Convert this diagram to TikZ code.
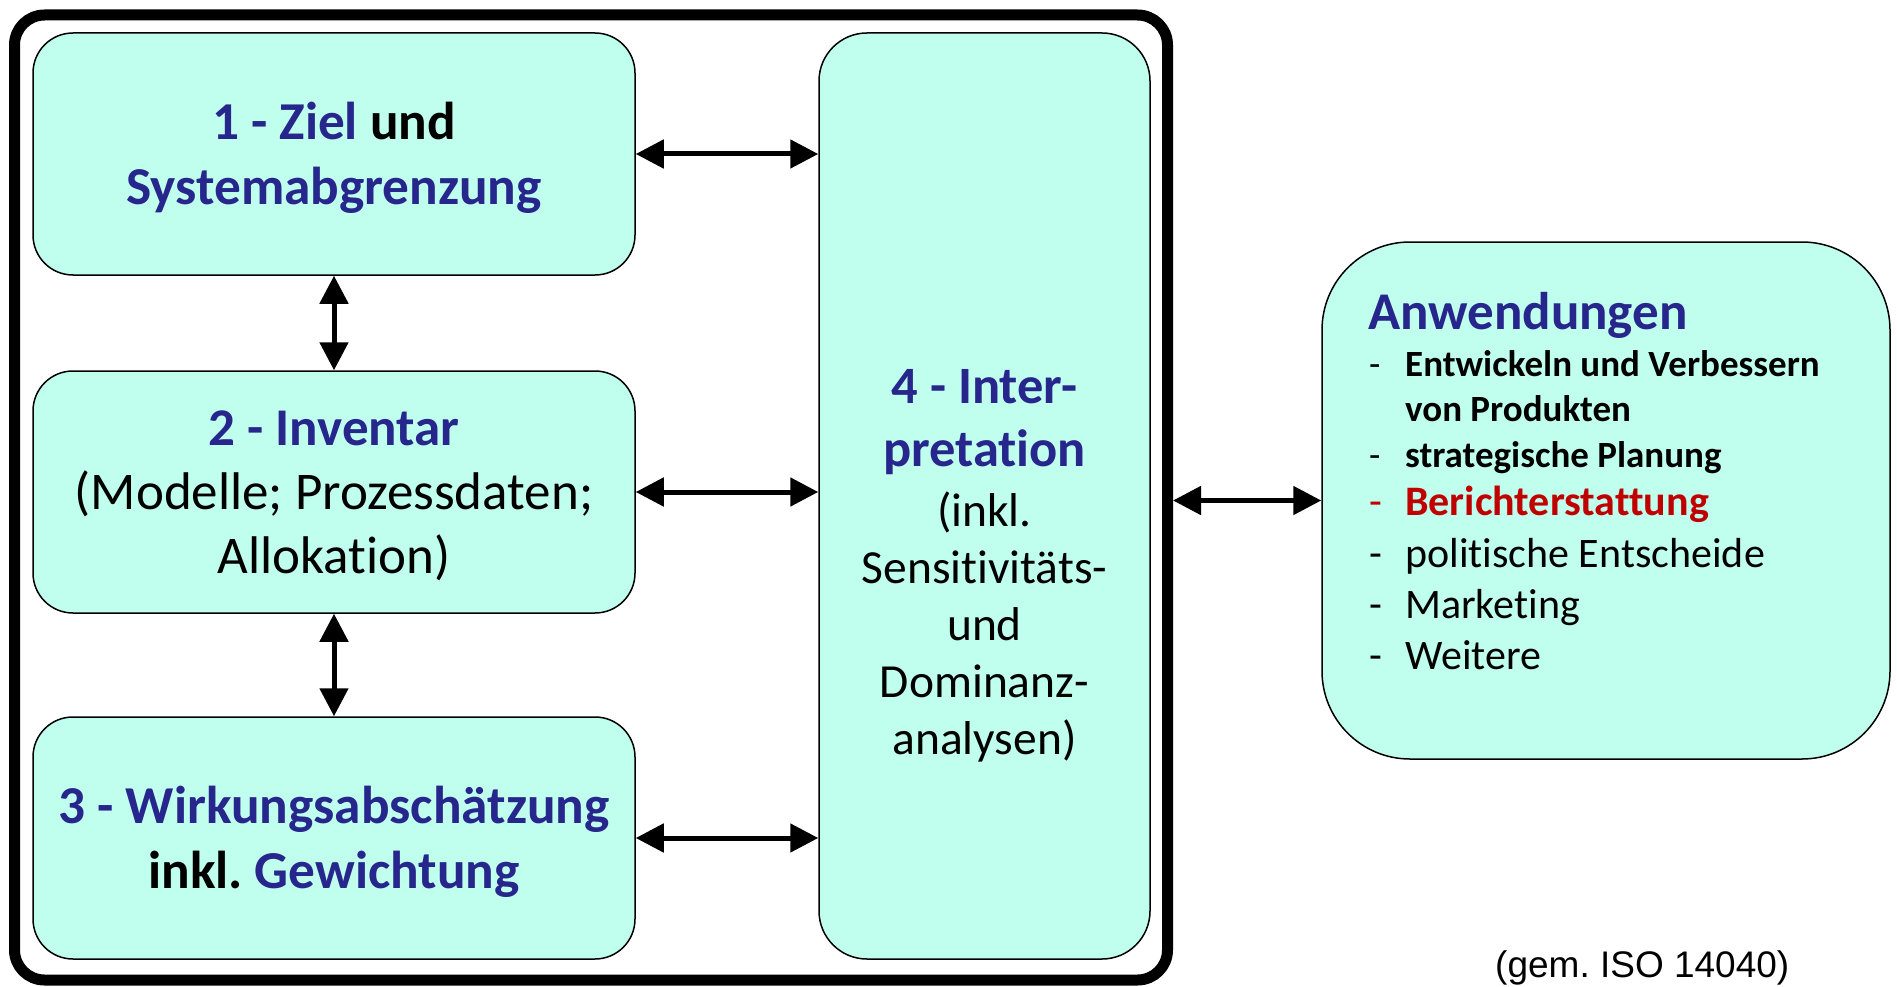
\documentclass[tikz,border=0pt]{standalone}
\usepackage{fontspec}
\setmainfont{Carlito}[Ligatures=NoCommon]
\newfontfamily\arialfont{Liberation Sans}
\usetikzlibrary{arrows.meta}
\definecolor{lcablue}{RGB}{38,38,140}
\definecolor{lcared}{RGB}{192,0,0}
\definecolor{lcafill}{RGB}{192,255,237}
\frenchspacing
\tikzset{
  phase/.style={draw=black, line width=1.5pt, fill=lcafill, rounded corners=40pt, inner sep=0pt},
  conn/.style={line width=5pt, {Triangle[length=28pt,width=28pt]}-{Triangle[length=28pt,width=28pt]}},
  bigbold/.style={font=\bfseries\fontsize{53.3}{64.5}\selectfont, align=center, text=black},
  bigreg/.style={font=\fontsize{53}{64}\selectfont, align=center, text=black},
  t4bold/.style={anchor=base, font=\bfseries\fontsize{52.5}{63}\selectfont, text=lcablue},
  t4reg/.style={anchor=base, font=\fontsize{47.5}{57}\selectfont, text=black},
  anwline/.style={anchor=base west, inner sep=0pt},
}
\begin{document}
\begin{tikzpicture}[x=1pt,y=-1pt]
\useasboundingbox (0,0) rectangle (1897,987);
% outer frame
\node[draw, line width=11pt, rounded corners=30pt, minimum width=1153pt, minimum height=965pt, inner sep=0pt] (frame) at (591,497.5) {};
% phase boxes
\node[phase, minimum width=602pt, minimum height=242pt] (b1) at (334,154) {};
\node[phase, minimum width=602pt, minimum height=242pt] (b2) at (334,492) {};
\node[phase, minimum width=602pt, minimum height=242pt] (b3) at (334,838) {};
\node[phase, minimum width=331pt, minimum height=926pt, rounded corners=48pt] (b4) at (984.5,496) {};
\node[phase, minimum width=568pt, minimum height=517pt, rounded corners=88pt] (anw) at (1606,500.5) {};
% box texts
\node[bigbold] (t1) at (334,158) {\textcolor{lcablue}{1 - Ziel} und\\\textcolor{lcablue}{Systemabgrenzung}};
\node[bigreg] (t2) at (334,496) {\textbf{\textcolor{lcablue}{2 - Inventar}}\\(Modelle; Prozessdaten;\\Allokation)};
\node[bigbold] (t3) at (334,842) {\textcolor{lcablue}{3 - Wirkungsabschätzung}\\inkl. \textcolor{lcablue}{Gewichtung}};
\node[t4bold] (t4a) at (984.5,403) {4 - Inter-};
\node[t4bold] (t4b) at (984.5,466) {pretation};
\node[t4reg] (t4c) at (984.5,526) {(inkl.};
\node[t4reg] (t4d) at (984.5,583) {Sensitivitäts-};
\node[t4reg] (t4e) at (984.5,640) {und};
\node[t4reg] (t4f) at (984.5,697) {Dominanz-};
\node[t4reg] (t4g) at (984.5,754) {analysen)};
% Anwendungen
\node[anwline, font=\bfseries\fontsize{53}{64}\selectfont, text=lcablue] (ah) at (1368,329) {Anwendungen};
\node[anwline, font=\fontsize{37}{45}\selectfont] (d1) at (1369,376) {-};
\node[anwline, font=\bfseries\fontsize{37}{45}\selectfont] (a1) at (1405,376) {Entwickeln und Verbessern};
\node[anwline, font=\bfseries\fontsize{37}{45}\selectfont] (a2) at (1405,421) {von Produkten};
\node[anwline, font=\fontsize{37}{45}\selectfont] (d3) at (1369,467) {-};
\node[anwline, font=\bfseries\fontsize{37}{45}\selectfont] (a3) at (1405,467) {strategische Planung};
\node[anwline, font=\fontsize{42}{51}\selectfont, text=lcared] (d4) at (1369,515) {-};
\node[anwline, font=\bfseries\fontsize{42}{51}\selectfont, text=lcared] (a4) at (1405,515) {Berichterstattung};
\node[anwline, font=\fontsize{42}{51}\selectfont] (d5) at (1369,567) {-};
\node[anwline, font=\fontsize{42}{51}\selectfont] (a5) at (1405,567) {politische Entscheide};
\node[anwline, font=\fontsize{42}{51}\selectfont] (d6) at (1369,618) {-};
\node[anwline, font=\fontsize{42}{51}\selectfont] (a6) at (1405,618) {Marketing};
\node[anwline, font=\fontsize{42}{51}\selectfont] (d7) at (1369,669) {-};
\node[anwline, font=\fontsize{42}{51}\selectfont] (a7) at (1405,669) {Weitere};
% source
\node[anwline, font=\arialfont\fontsize{37}{44}\selectfont] (src) at (1495,977) {(gem. ISO 14040)};
% connectors
\draw[conn] (b1.east) -- (b1.east -| b4.west);
\draw[conn] (b2.east) -- (b2.east -| b4.west);
\draw[conn] (b3.east) -- (b3.east -| b4.west);
\draw[conn] (b1.south) -- (b2.north);
\draw[conn] (b2.south) -- (b3.north);
\draw[conn] (frame.east |- anw.west) -- (anw.west);
\end{tikzpicture}
\end{document}
